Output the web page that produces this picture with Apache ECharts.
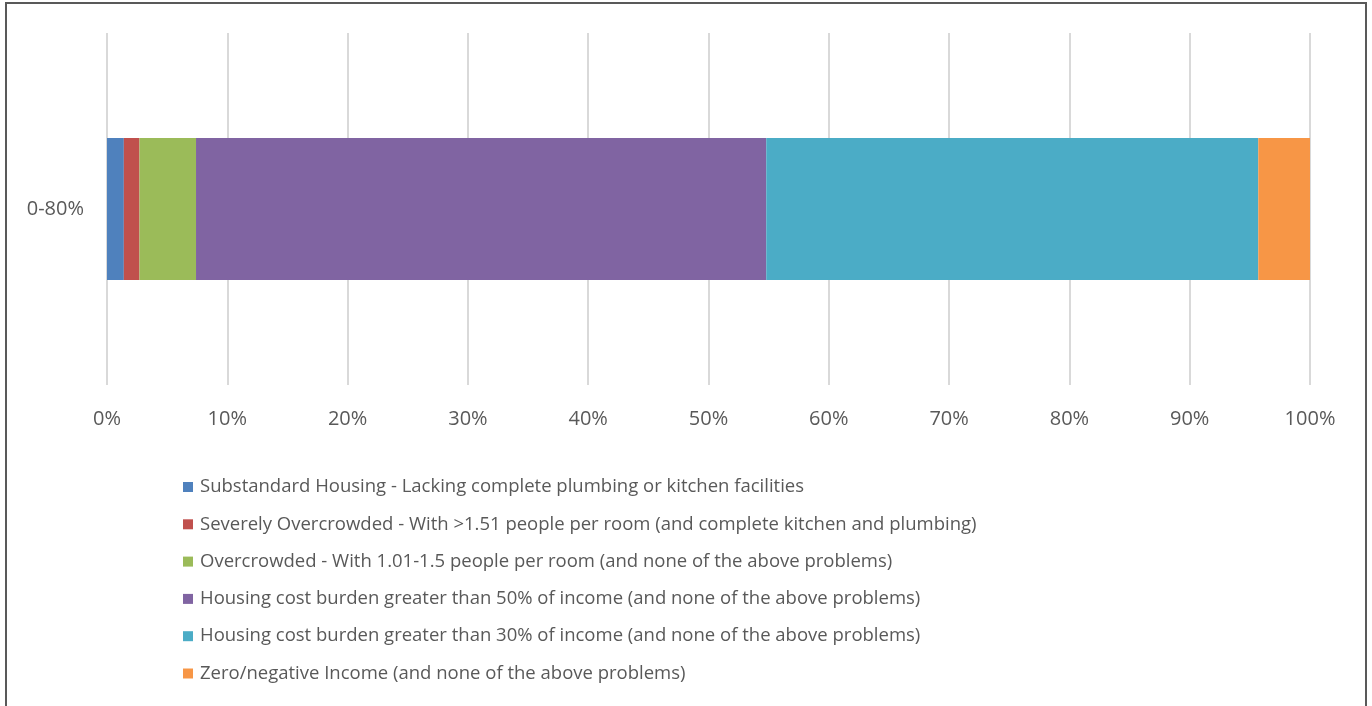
<!DOCTYPE html>
<html>
<head>
<meta charset="utf-8">
<script src="https://cdn.jsdelivr.net/npm/echarts@6/dist/echarts.min.js"></script>
<style>
  html, body { margin: 0; padding: 0; background: #ffffff; }
  #chart { width: 1372px; height: 706px; }
</style>
</head>
<body>
<div id="chart"></div>
<script>
// Share of households (0-80% AMI) by housing problem
const categories = ['0-80%'];
const seriesNames = [
  'Substandard Housing - Lacking complete plumbing or kitchen facilities',
  'Severely Overcrowded - With >1.51 people per room (and complete kitchen and plumbing)',
  'Overcrowded - With 1.01-1.5 people per room (and none of the above problems)',
  'Housing cost burden greater than 50% of income (and none of the above problems)',
  'Housing cost burden greater than 30% of income (and none of the above problems)',
  'Zero/negative Income (and none of the above problems)'
];
const substandard = [1.4];
const severelyOvercrowded = [1.3];
const overcrowded = [4.7];
const burden50 = [47.4];
const burden30 = [40.9];
const zeroIncome = [4.3];
const seriesColors = ['#4f81bd', '#c0504d', '#9bbb59', '#8064a2', '#4bacc6', '#f79646'];

const seriesValues = [substandard, severelyOvercrowded, overcrowded, burden50, burden30, zeroIncome];
const FONT = '"Open Sans", "Noto Sans", sans-serif';

const chart = echarts.init(document.getElementById('chart'), null, { renderer: 'canvas' });
chart.setOption({
  animation: false,
  backgroundColor: '#ffffff',
  color: seriesColors,
  grid: { left: 107, right: 62, top: 33, bottom: 321, containLabel: false },
  xAxis: {
    type: 'value',
    min: 0,
    max: 100,
    interval: 10,
    axisLine: { show: false },
    axisTick: { show: false },
    splitLine: { show: true, lineStyle: { color: '#d9d9d9', width: 2 } },
    axisLabel: {
      formatter: '{value}%',
      color: '#595959',
      fontFamily: FONT,
      fontSize: 20,
      margin: 24
    }
  },
  yAxis: {
    type: 'category',
    data: categories,
    axisLine: { show: false },
    axisTick: { show: false },
    axisLabel: {
      color: '#595959',
      fontFamily: FONT,
      fontSize: 20,
      margin: 23
    }
  },
  legend: {
    orient: 'vertical',
    left: 178,
    top: 472,
    itemWidth: 10,
    itemHeight: 10,
    itemGap: 17.3,
    icon: 'rect',
    data: seriesNames,
    textStyle: {
      color: '#595959',
      fontFamily: FONT,
      fontSize: 18.5,
      lineHeight: 20,
      padding: [0, 0, 0, 2]
    }
  },
  series: seriesNames.map((name, i) => ({
    name: name,
    type: 'bar',
    stack: 'total',
    barWidth: 142,
    data: seriesValues[i],
    itemStyle: { color: seriesColors[i] }
  })),
  graphic: [{
    type: 'rect',
    shape: { x: 6, y: 3, width: 1360, height: 720 },
    style: { fill: null, stroke: '#595959', lineWidth: 2 },
    silent: true
  }]
});
</script>
</body>
</html>
